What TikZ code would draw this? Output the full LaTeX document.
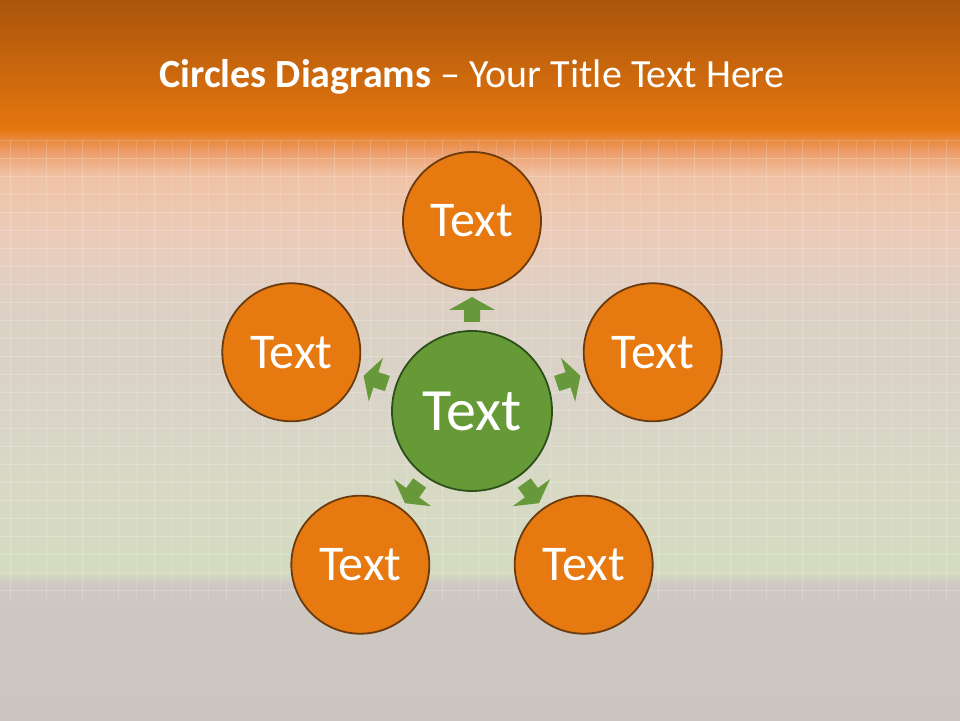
\documentclass[tikz,border=0pt]{standalone}
\usepackage{fontspec}
\setmainfont{Carlito}
\usetikzlibrary{calc}
\definecolor{hdtop}{HTML}{A9550B}
\definecolor{hdbot}{HTML}{E5760F}
\definecolor{peach}{HTML}{F0C2A4}
\definecolor{hdmid}{HTML}{EC9C68}
\definecolor{orfill}{HTML}{E67910}
\definecolor{orline}{HTML}{6B3A0E}
\definecolor{grfill}{HTML}{659A36}
\definecolor{grline}{HTML}{2E4E1B}
\definecolor{arfill}{HTML}{67993A}
\definecolor{bgA}{HTML}{CBC4BF}
\definecolor{bgB}{HTML}{CEC8C2}
\definecolor{bgC}{HTML}{D5DBC0}
\definecolor{bgD}{HTML}{D7D9C4}
\definecolor{bgE}{HTML}{D9D3C8}
\definecolor{bgF}{HTML}{DDD0C4}
\definecolor{bgG}{HTML}{EBCCBB}
\definecolor{bgH}{HTML}{F0C2A4}
\pgfdeclareverticalshading{bodyshade}{100bp}{%
  color(0bp)=(bgA);
  color(25bp)=(bgA);
  color(37.5bp)=(bgB);
  color(38.5bp)=(bgC);
  color(47bp)=(bgD);
  color(54.5bp)=(bgE);
  color(63.5bp)=(bgF);
  color(69bp)=(bgG);
  color(75bp)=(bgH);
  color(100bp)=(bgH)}
\begin{document}
\begin{tikzpicture}[x=1pt,y=1pt,
  outer/.style={circle,draw=orline,line width=1.8pt,fill=orfill,minimum size=138pt,inner sep=0pt,
    text=white,font=\fontsize{50}{54}\selectfont},
  hub/.style={circle,draw=grline,line width=1.8pt,fill=grfill,minimum size=160pt,inner sep=0pt,
    text=white,font=\fontsize{60}{64}\selectfont},
  blockarrow/.style={fill=arfill,draw=none},
  gridline/.style={white,opacity=0.2,line width=0.9pt}]
\useasboundingbox (0,0) rectangle (960,720);
% background
\shade[shading=bodyshade] (0,0) rectangle (960,545);
\shade[top color=hdbot,bottom color=peach,middle color=hdmid] (0,545) rectangle (960,592);
\shade[top color=hdtop,bottom color=hdbot] (0,592) rectangle (960,720);
\foreach \x in {10,46,...,960} \draw[gridline] (\x,120) -- (\x,580);
\foreach \x in {28,64,...,960} \draw[gridline,opacity=0.12] (\x,120) -- (\x,580);
\foreach \y in {130,148,...,580} \draw[gridline] (0,\y) -- (960,\y);
% title
\node (title) at (472,643) {\color{white}\fontsize{40}{44}\selectfont\textbf{Circles Diagrams} – Your Title Text Here};
% hub and outer circles
\node[hub] (c) at (472,309) {Text};
\foreach \a/\n in {90/1,18/2,-54/3,-126/4,162/5}
  \node[outer] (o\n) at ($(c)+(\a:190)$) {Text};
% arrows
\foreach \a in {90,18,-54,-126,162}
  \fill[blockarrow,shift={(c)},rotate=\a]
    (89,-8) -- (101,-8) -- (101,-23) -- (114,0) -- (101,23) -- (101,8) -- (89,8) -- cycle;
\end{tikzpicture}
\end{document}
